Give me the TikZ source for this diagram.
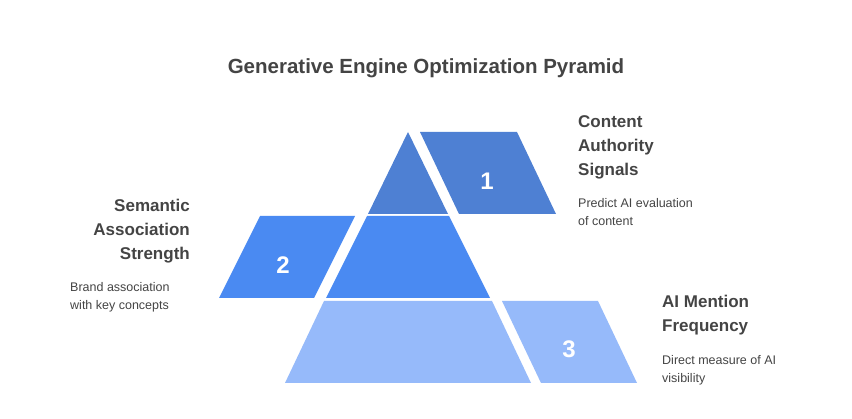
\documentclass[tikz,border=0pt]{standalone}
\usepackage{fontspec}
\setmainfont{Liberation Sans}
\definecolor{cA}{HTML}{4E80D3}
\definecolor{cB}{HTML}{4A8AF2}
\definecolor{cC}{HTML}{96BAFA}
\definecolor{tx}{HTML}{444444}
\begin{document}
\begin{tikzpicture}[x=1pt,y=-1pt,
  num/.style={text=white,font=\bfseries\fontsize{24}{24}\selectfont},
  head/.style={text=tx,font=\bfseries\fontsize{17}{24}\selectfont,align=left,inner sep=0},
  body/.style={text=tx,font=\fontsize{12.5}{18}\selectfont,align=left,inner sep=0}]
\useasboundingbox[fill=white] (0,0) rectangle (852,419);
\node[text=tx,font=\bfseries\fontsize{20.5}{24}\selectfont] (title) at (426,68) {Generative Engine Optimization Pyramid};
% pyramid
\fill[cA] (408,132) -- (368,214) -- (448,214) -- cycle;
\fill[cB] (367,216) -- (449,216) -- (490,298) -- (326,298) -- cycle;
\fill[cC] (324,301) -- (492,301) -- (531,383) -- (285,383) -- cycle;
% parallelograms
\fill[cA] (420,132) -- (517,132) -- (556,214) -- (459,214) -- cycle;
\node[num] (n1) at (487,181) {1};
\fill[cB] (260,216) -- (355,216) -- (314,298) -- (219,298) -- cycle;
\node[num] (n2) at (283,265) {2};
\fill[cC] (502,301) -- (598,301) -- (637,383) -- (541,383) -- cycle;
\node[num] (n3) at (569,349) {3};
% texts
\node[head,anchor=north west] (h1) at (578,115) {Content\\Authority\\Signals};
\node[body,anchor=north west] (b1) at (578,198) {Predict AI evaluation\\of content};
\node[head,anchor=north east,align=right] (h2) at (190,199) {Semantic\\Association\\Strength};
\node[body,anchor=north west] (b2) at (70,282) {Brand association\\with key concepts};
\node[head,anchor=north west] (h3) at (662,295) {AI Mention\\Frequency};
\node[body,anchor=north west] (b3) at (662,355) {Direct measure of AI\\visibility};
\end{tikzpicture}
\end{document}
